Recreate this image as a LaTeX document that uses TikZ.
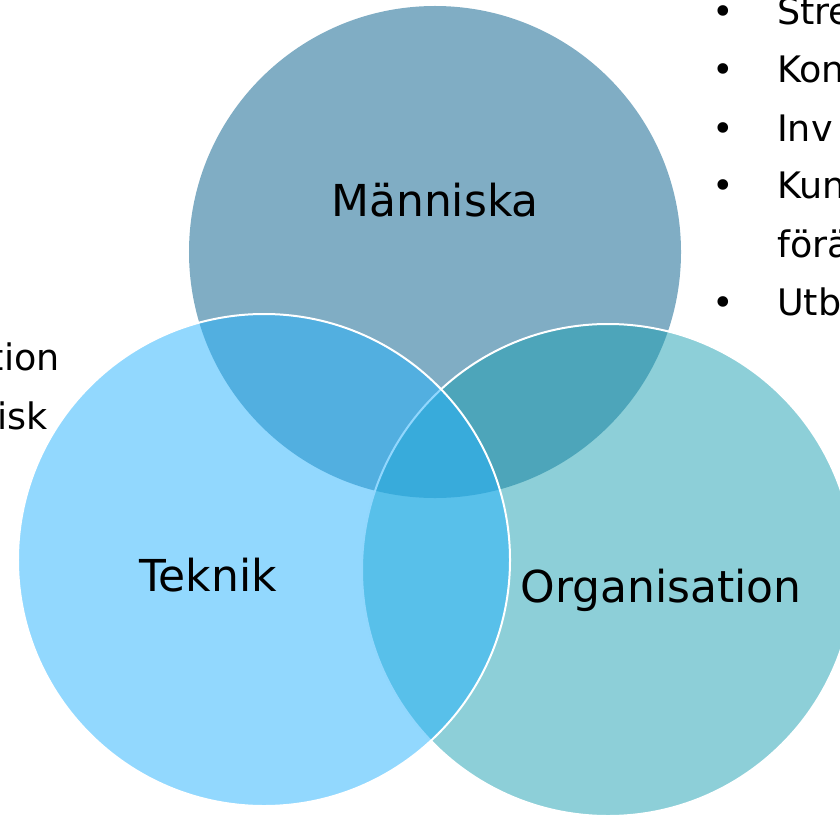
\documentclass[tikz,border=0pt]{standalone}
\usepackage{fontspec}
\setmainfont{DejaVu Sans}
\usepackage{xcolor}
\usepackage{tikz}
\definecolor{topgrey}{HTML}{80ADC4}
\definecolor{leftblue}{HTML}{25B1FD}
\definecolor{rightteal}{HTML}{1B9FB1}

\begin{document}
\begin{tikzpicture}[x=1bp,y=-1bp,%
% common options for the circles:
ring/.style = {circle, minimum size=492bp, inner sep=0},
% common options for the labels:
label/.style = {anchor=base, inner sep=0, font=\fontsize{44bp}{53bp}\selectfont},
% common options for the bullet list:
item/.style = {anchor=base west, inner sep=0, font=\fontsize{36.5bp}{44bp}\selectfont},
dot/.style = {anchor=base, inner sep=0, font=\fontsize{36.5bp}{44bp}\selectfont}]
\useasboundingbox (0,0) rectangle (840,815);
\node[ring,fill=topgrey] (C1) at (435,252) {};
\node[ring,fill=rightteal,fill opacity=0.5,draw=white,line width=2bp] (C3) at (608,570) {};
\node[ring,fill=leftblue,fill opacity=0.5,draw=white,line width=2bp] (C2) at (264,560) {};
\node[label] (T1) at (435,216) {Människa};
\node[label] (T2) at (208,591) {Teknik};
\node[label] (T3) at (661,602) {Organisation};
\node[dot] (B1) at (723,25) {•};
\node[dot] (B2) at (723,83) {•};
\node[dot] (B3) at (723,141) {•};
\node[dot] (B4) at (723,198) {•};
\node[dot] (B5) at (723,315) {•};
\node[item] (I1) at (777,25) {Stre};
\node[item] (I2) at (777,83) {Kon};
\node[item] (I3) at (777,141) {Inv};
\node[item] (I4) at (777,198) {Kun};
\node[item] (I5) at (777,257) {förä};
\node[item] (I6) at (777,315) {Utb};
\node[item,anchor=base east] (P1) at (60,370) {tion};
\node[item,anchor=base east] (P2) at (48,429) {isk};
\end{tikzpicture}
\end{document}
